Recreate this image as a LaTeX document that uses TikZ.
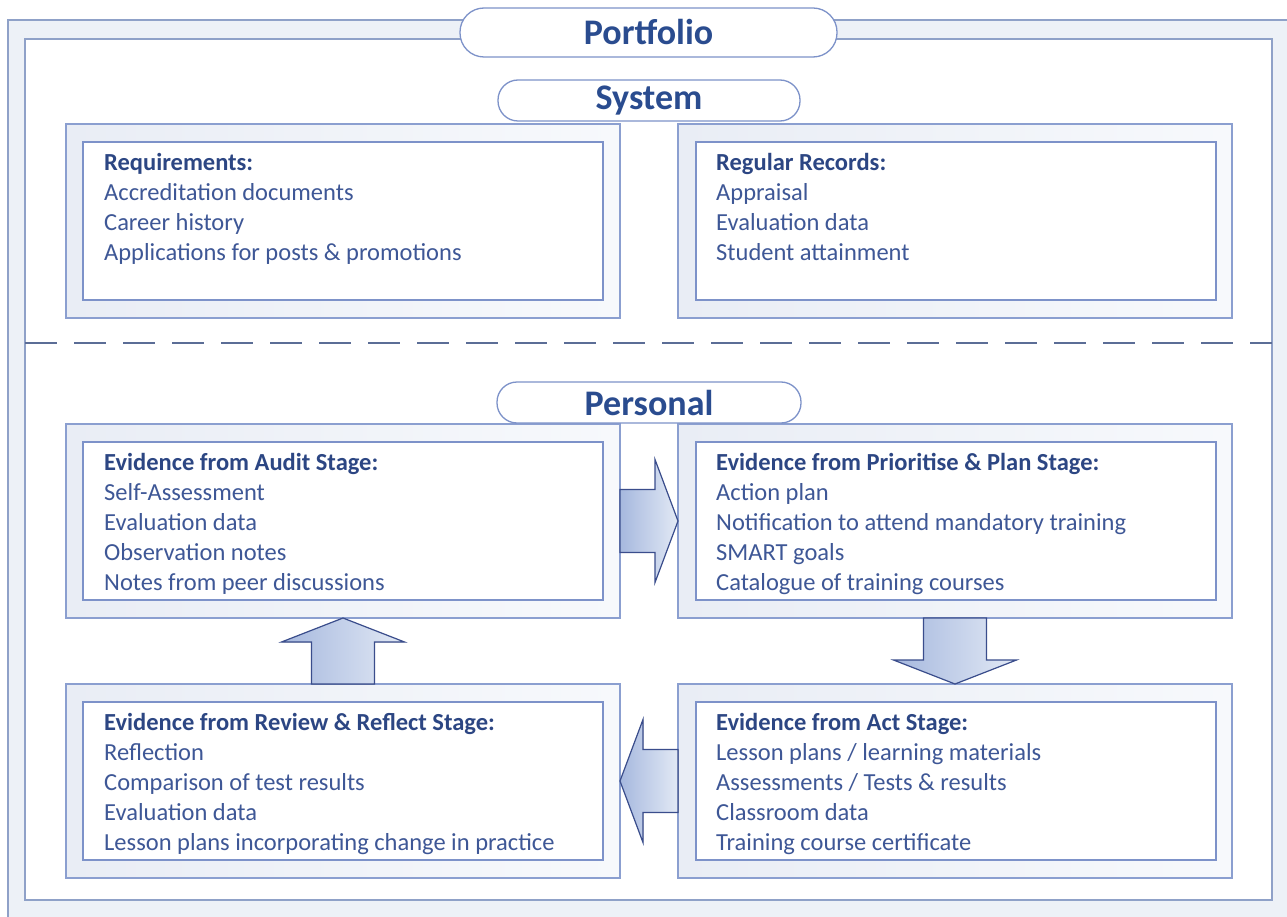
\documentclass[tikz,border=0pt]{standalone}
\usepackage{fontspec}
\setmainfont{Carlito}
\usetikzlibrary{positioning,calc}
\definecolor{frameline}{HTML}{8FA1C8}
\definecolor{boxline}{HTML}{8B9FD0}
\definecolor{innerline}{HTML}{7D92C9}
\definecolor{band}{HTML}{E9EDF5}
\definecolor{bandlight}{HTML}{F7F9FC}
\definecolor{dashcol}{HTML}{5B6D96}
\definecolor{titleblue}{HTML}{2A4C8F}
\definecolor{headblue}{HTML}{2C4683}
\definecolor{bodyblue}{HTML}{3E5796}
\definecolor{arrowline}{HTML}{3A4D8C}
\definecolor{arrowdark}{HTML}{A6B8DE}
\definecolor{arrowlight}{HTML}{E2E9F5}
\tikzset{
  outerbox/.style={draw=boxline,line width=1.3pt,left color=band,right color=bandlight,
    minimum width=554pt,minimum height=194pt,anchor=north west,inner sep=0pt,outer sep=0pt},
  innerbox/.style={draw=innerline,line width=1.3pt,fill=white,
    minimum width=520pt,minimum height=158pt,anchor=north west,inner sep=0pt,outer sep=0pt},
  listtext/.style={anchor=north west,inner sep=0pt,align=left,text=bodyblue,
    font=\fontsize{24.5}{30}\selectfont},
  pill/.style={draw=innerline,line width=1.3pt,fill=white,inner sep=0pt,text=titleblue,
    font=\fontsize{36}{40}\selectfont\bfseries},
  blockarrow/.style={draw=arrowline,line width=1.2pt,left color=arrowdark,right color=arrowlight,line join=miter}
}
\newcommand{\hd}[1]{\strut\textbf{\color{headblue}#1}}
\begin{document}
\begin{tikzpicture}[x=1pt,y=-1pt]
\clip (0,0) rectangle (1287,917);
\fill[white] (0,0) rectangle (1287,917);

\draw[frameline,line width=1.3pt,fill=band!80!white] (8,20) rectangle (1292,921);
\draw[frameline,line width=1.3pt,fill=white] (25,39) rectangle (1272,900);
\draw[dashcol,line width=2pt,dash pattern=on 32pt off 17pt] (25,343) -- (1272,343);

\node[outerbox] (req) at (66,124) {};
\node[innerbox] (reqin) at (83,142) {};
\node[listtext] (reqtext) at ([xshift=21pt,yshift=-7.5pt]reqin.north west)
  {\hd{Requirements:}\\Accreditation documents\\Career history\\Applications for posts \& promotions};

\node[outerbox] (rec) at (678,124) {};
\node[innerbox] (recin) at (696,142) {};
\node[listtext] (rectext) at ([xshift=20pt,yshift=-7.5pt]recin.north west)
  {\hd{Regular Records:}\\Appraisal\\Evaluation data\\Student attainment};

\node[outerbox] (audit) at (66,424) {};
\node[innerbox] (auditin) at (83,442) {};
\node[listtext] (audittext) at ([xshift=21pt,yshift=-7.5pt]auditin.north west)
  {\hd{Evidence from Audit Stage:}\\Self-Assessment\\Evaluation data\\Observation notes\\Notes from peer discussions};

\node[outerbox] (plan) at (678,424) {};
\node[innerbox] (planin) at (696,442) {};
\node[listtext] (plantext) at ([xshift=20pt,yshift=-7.5pt]planin.north west)
  {\hd{Evidence from Prioritise \& Plan Stage:}\\Action plan\\Notification to attend mandatory training\\SMART goals\\Catalogue of training courses};

\node[outerbox] (review) at (66,684) {};
\node[innerbox] (reviewin) at (83,702) {};
\node[listtext] (reviewtext) at ([xshift=21pt,yshift=-7.5pt]reviewin.north west)
  {\hd{Evidence from Review \& Reflect Stage:}\\Reflection\\Comparison of test results\\Evaluation data\\Lesson plans incorporating change in practice};

\node[outerbox] (act) at (678,684) {};
\node[innerbox] (actin) at (696,702) {};
\node[listtext] (acttext) at ([xshift=20pt,yshift=-7.5pt]actin.north west)
  {\hd{Evidence from Act Stage:}\\Lesson plans / learning materials\\Assessments / Tests \& results\\Classroom data\\Training course certificate};

\filldraw[blockarrow] (audit.east) ++(0,-31.5) -- ++(35,0) -- ++(0,-30) -- (plan.west)
  -- ++(-23,61.5) -- ++(0,-30) -- ++(-35,0) -- cycle;
\filldraw[blockarrow] (plan.south) ++(-31.5,0) -- ++(0,42) -- ++(-30,0) -- (act.north)
  -- ++(61.5,-24) -- ++(-30,0) -- ++(0,-42) -- cycle;
\filldraw[blockarrow] (act.west) ++(0,-31.5) -- ++(-35,0) -- ++(0,-30) -- (review.east)
  -- ++(23,61.5) -- ++(0,-30) -- ++(35,0) -- cycle;
\filldraw[blockarrow] (review.north) ++(-31.5,0) -- ++(0,-42) -- ++(-30,0) -- (audit.south)
  -- ++(61.5,24) -- ++(-30,0) -- ++(0,42) -- cycle;

\node[pill,minimum width=377pt,minimum height=49pt,rounded corners=24pt] (portfolio) at (648.5,32.5) {Portfolio};
\node[pill,minimum width=302pt,minimum height=41pt,rounded corners=20pt] (system) at (649,100.5) {System};
\node[pill,minimum width=304pt,minimum height=41pt,rounded corners=20pt] (personal) at (649,402.5) {Personal};
\end{tikzpicture}
\end{document}
